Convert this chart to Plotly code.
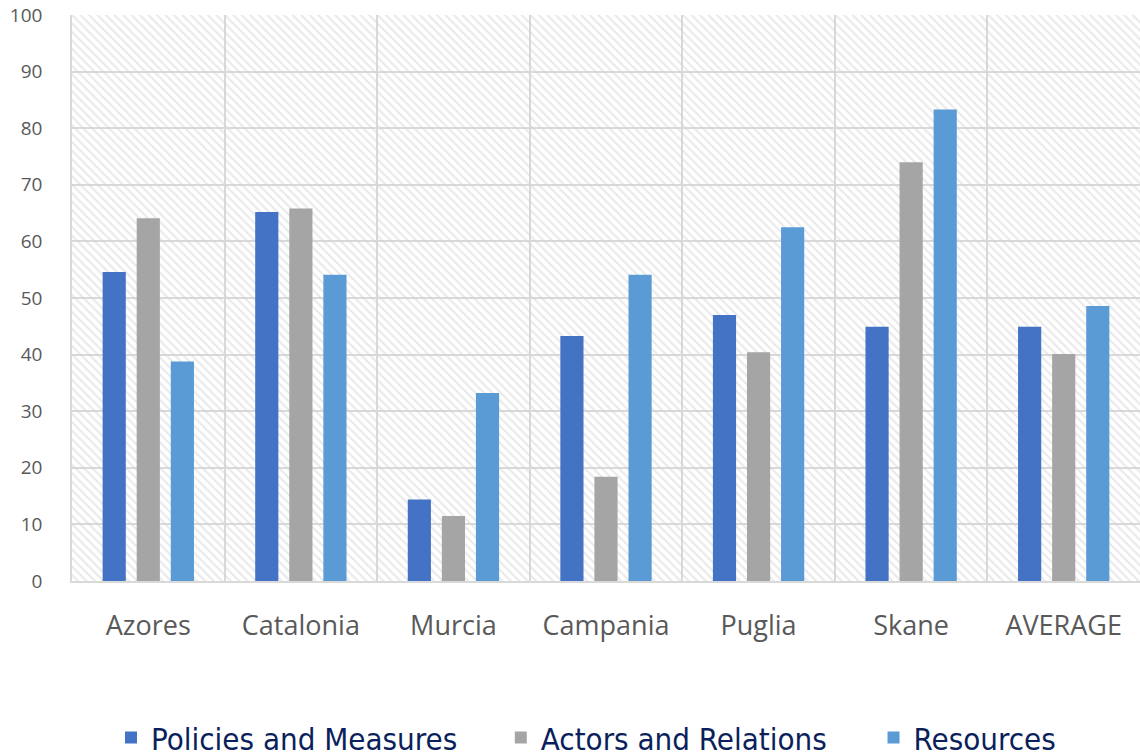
import plotly.graph_objects as go

categories = ["Azores", "Catalonia", "Murcia", "Campania", "Puglia", "Skane", "AVERAGE"]
policies = [54.6, 65.2, 14.4, 43.3, 47.0, 44.9, 44.9]
actors = [64.1, 65.8, 11.5, 18.4, 40.4, 74.0, 40.1]
resources = [38.8, 54.1, 33.2, 54.1, 62.5, 83.3, 48.6]
series_names = ["Policies and Measures", "Actors and Relations", "Resources"]
colors = ["#4472C4", "#A5A5A5", "#5B9BD5"]
y_ticks = list(range(0, 101, 10))

fig = go.Figure()

# hatched plot-area background
fig.add_trace(go.Bar(
    x=[0.5], y=[100], width=[1], xaxis="x", yaxis="y",
    marker=dict(color="rgba(0,0,0,0)", line=dict(width=0),
                pattern=dict(shape="\\", fgcolor="#d4d4d4", bgcolor="rgba(0,0,0,0)",
                             size=6, solidity=0.35)),
    showlegend=False, hoverinfo="skip",
))

legend_ids = ["legend", "legend2", "legend3"]
for name, vals, col, lg in zip(series_names, [policies, actors, resources], colors, legend_ids):
    fig.add_trace(go.Bar(
        x=categories, y=vals, name=name, xaxis="x2", yaxis="y",
        marker=dict(color=col, line=dict(width=0)), legend=lg,
    ))

legend_font = dict(family="DejaVu Sans Condensed", size=31, color="#0B1F5C")
legend_common = dict(orientation="h", y=-0.277, yanchor="middle", xanchor="left",
                     font=legend_font, itemwidth=30, bgcolor="rgba(0,0,0,0)")

fig.update_layout(
    width=1140, height=756,
    margin=dict(l=72, r=0, t=15, b=175, autoexpand=False),
    paper_bgcolor="white", plot_bgcolor="white",
    barmode="group", bargap=0.33, bargroupgap=0.32,
    xaxis=dict(range=[0, 1], visible=False, showgrid=False, automargin=False),
    xaxis2=dict(overlaying="x", anchor="y", side="bottom", type="category",
                tickson="boundaries", showgrid=True, gridcolor="#d9d9d9", gridwidth=1.5,
                ticks="", showline=True, linecolor="#d9d9d9", linewidth=1.5,
                tickfont=dict(family="Open Sans", size=27, color="#595959"),
                ticklabelstandoff=20, automargin=False),
    yaxis=dict(range=[0, 100], tickvals=y_ticks, showgrid=True, gridcolor="#d9d9d9",
               gridwidth=1.5, zeroline=False, ticks="", showline=True,
               linecolor="#d9d9d9", linewidth=1.5, ticklabeloverflow="allow",
               tickfont=dict(family="Open Sans", size=19, color="#595959"),
               ticklabelstandoff=24, automargin=False),
    legend=dict(x=0.0365, **legend_common),
    legend2=dict(x=0.4015, **legend_common),
    legend3=dict(x=0.7505, **legend_common),
)

fig.write_html("out.html", config={"displayModeBar": False},
               post_script="document.body.style.margin='0';document.body.style.overflow='hidden';")
